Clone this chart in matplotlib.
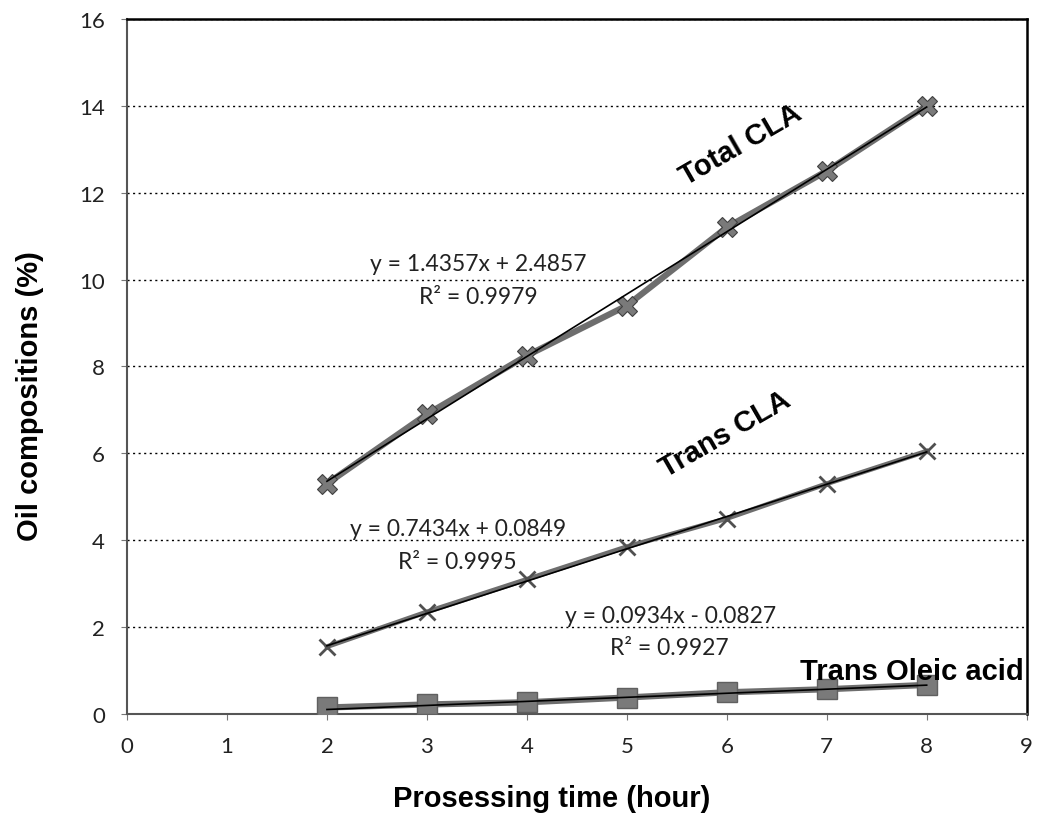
import matplotlib
matplotlib.use("Agg")
import matplotlib.pyplot as plt
import numpy as np

# processing time (hour)
hours = [2, 3, 4, 5, 6, 7, 8]

# oil compositions (%)
total_cla = [5.3, 6.9, 8.25, 9.4, 11.2, 12.5, 14.0]
trans_cla = [1.55, 2.35, 3.1, 3.85, 4.5, 5.3, 6.05]
trans_oleic = [0.15, 0.22, 0.27, 0.38, 0.5, 0.57, 0.67]

# linear trend lines shown on the chart (slope, intercept)
total_fit = (1.4357, 2.4857)
trans_cla_fit = (0.7434, 0.0849)
oleic_fit = (0.0934, -0.0827)

fig = plt.figure(figsize=(10.37, 8.29), dpi=100)
ax = fig.add_axes([0.1225, 0.1375, 0.8675, 0.8385])

gray = "#6e6e6e"
xs = np.array([hours[0], hours[-1]])

# data series
ax.plot(hours, total_cla, color=gray, lw=4.5, marker="X", ms=14,
        mfc="#7a7a7a", mec="#404040", mew=0.8, zorder=3)
ax.plot(hours, trans_cla, color=gray, lw=3.5, marker="x", ms=12,
        mec="#505050", mew=2, zorder=3)
ax.plot(hours, trans_oleic, color=gray, lw=4.5, marker="s", ms=14,
        mfc="#7a7a7a", mec="#606060", zorder=3)

# trend lines
for slope, icpt in (total_fit, trans_cla_fit, oleic_fit):
    ax.plot(xs, slope * xs + icpt, color="black", lw=1.2, zorder=4)

ax.set_xlim(0, 9)
ax.set_ylim(0, 16)
ax.set_xticks(range(0, 10))
ax.set_yticks(range(0, 17, 2))
ax.yaxis.grid(True, linestyle=(0, (1.5, 2.5)), color="black", lw=1)
ax.set_axisbelow(True)

for side in ("top", "right"):
    ax.spines[side].set_color("black")
    ax.spines[side].set_linewidth(1.8)
for side in ("left", "bottom"):
    ax.spines[side].set_color("#555555")
    ax.spines[side].set_linewidth(1.5)

ax.tick_params(labelsize=16, length=4, color="#777777", pad=12)
for lab in ax.get_xticklabels() + ax.get_yticklabels():
    lab.set_family("Lato")
    lab.set_color("#222222")

ax.set_xlabel("Prosessing time (hour)", fontsize=21, fontweight="bold",
              family="Liberation Sans")
ax.set_ylabel("Oil compositions (%)", fontsize=21, fontweight="bold",
              family="Liberation Sans")
ax.xaxis.set_label_coords(0.472, -0.1)
ax.yaxis.set_label_coords(-0.092, 0.459)

bold = dict(fontsize=21, fontweight="bold", family="Liberation Sans",
            ha="center", va="center")
ax.text(6.14, 13.12, "Total CLA", rotation=30, **bold)
ax.text(5.98, 6.45, "Trans CLA", rotation=30, **bold)
ax.text(6.73, 1.0, "Trans Oleic acid", ha="left", va="center", clip_on=True,
        fontsize=21, fontweight="bold", family="Liberation Sans")

eq = dict(fontsize=16.5, family="Lato", ha="center", va="center", color="#222222")
ax.text(3.51, 10.38, "y = 1.4357x + 2.4857", **eq)
ax.text(3.51, 9.62, "R² = 0.9979", **eq)
ax.text(3.31, 4.26, "y = 0.7434x + 0.0849", **eq)
ax.text(3.30, 3.52, "R² = 0.9995", **eq)
ax.text(5.44, 2.26, "y = 0.0934x - 0.0827", **eq)
ax.text(5.43, 1.54, "R² = 0.9927", **eq)

fig.savefig("out.png", dpi=100)
